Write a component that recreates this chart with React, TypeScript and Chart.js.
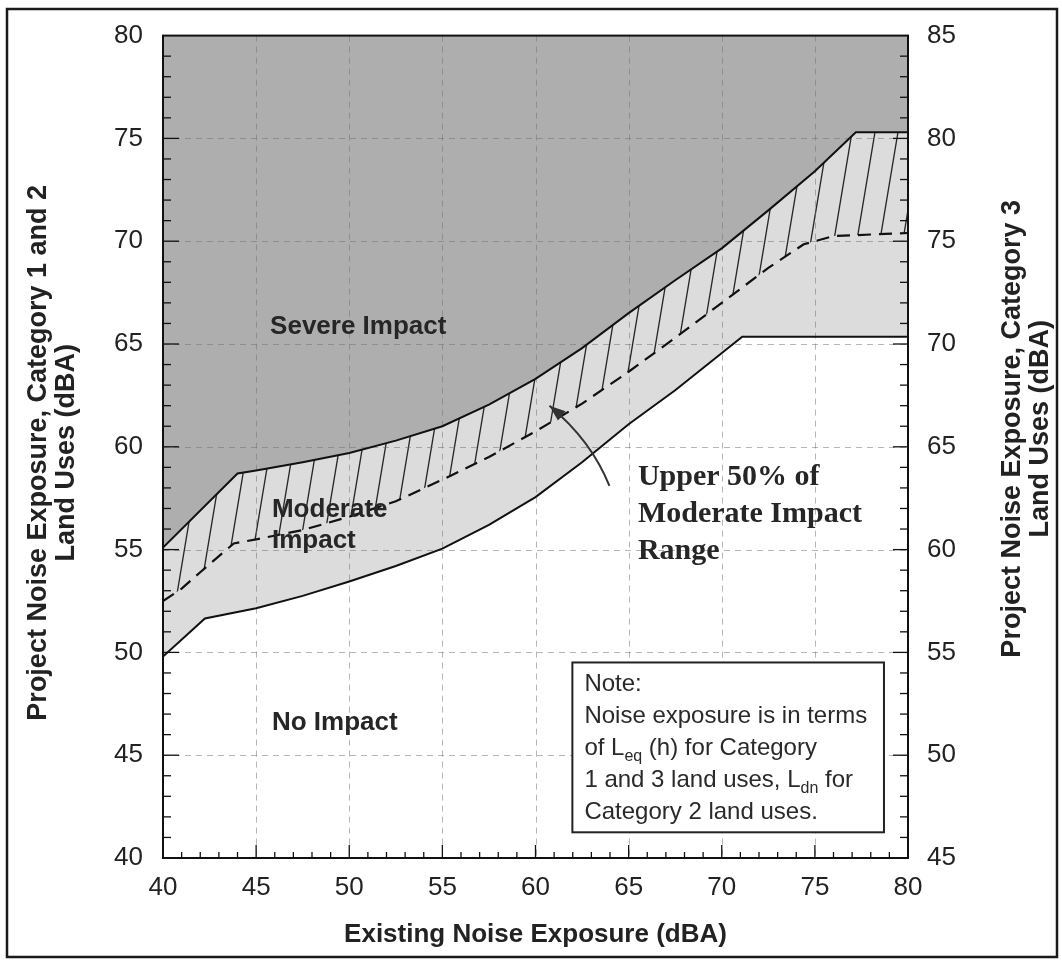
import React, { useEffect, useRef } from 'react';
import { Chart, registerables } from 'chart.js';

Chart.register(...registerables);

// ---------- data ----------
const xTicks = [40, 45, 50, 55, 60, 65, 70, 75, 80];
const yTicks = [40, 45, 50, 55, 60, 65, 70, 75, 80];
const y2Ticks = [45, 50, 55, 60, 65, 70, 75, 80, 85];

// Severe impact threshold (upper solid curve)
const severeX = [40, 44, 45, 47.5, 50, 52.5, 55, 57.5, 60, 62.5, 65, 67.5, 70, 72.5, 75, 77.2, 80];
const severeY = [55.1, 58.7, 58.85, 59.25, 59.7, 60.3, 61.0, 62.05, 63.3, 64.8, 66.5, 68.1, 69.65, 71.5, 73.4, 75.3, 75.3];

// Moderate impact threshold (lower solid curve)
const moderateX = [40, 42.25, 45, 47.5, 50, 52.5, 55, 57.5, 60, 62.5, 65, 67.5, 71.1, 80];
const moderateY = [49.8, 51.65, 52.15, 52.75, 53.45, 54.2, 55.05, 56.2, 57.55, 59.25, 61.1, 62.75, 65.35, 65.35];

// Upper 50% of moderate impact range (dashed curve)
const midX = [40, 41, 42, 43.8, 45, 47.5, 50, 52.5, 55, 57.5, 60, 62.5, 65, 67.5, 70, 72.5, 74.4, 76, 80];
const midY = [52.5, 53.1, 53.9, 55.3, 55.5, 55.95, 56.6, 57.35, 58.4, 59.5, 60.75, 62.1, 63.65, 65.3, 67.0, 68.7, 69.85, 70.25, 70.4];

const pts = (xs: number[], ys: number[]) => xs.map((x, i) => ({ x, y: ys[i] }));

// ---------- styles / layout ----------
const SANS = '"Liberation Sans", Arial, sans-serif';
const SERIF = '"Liberation Serif", "Times New Roman", serif';
const INK = '#222';

const noteLines: { t: string; sub?: boolean }[][] = [
  [{ t: 'Note:' }],
  [{ t: 'Noise exposure is in terms' }],
  [{ t: 'of L' }, { t: 'eq', sub: true }, { t: ' (h) for Category' }],
  [{ t: '1 and 3 land uses, L' }, { t: 'dn', sub: true }, { t: ' for' }],
  [{ t: 'Category 2 land uses.' }],
];

function makeHatch(): CanvasPattern | string {
  const w = 23, h = 138;
  const c = document.createElement('canvas');
  c.width = w;
  c.height = h;
  const g = c.getContext('2d');
  if (!g) return 'rgba(0,0,0,0)';
  g.strokeStyle = '#262626';
  g.lineWidth = 1.3;
  for (const o of [-w, 0, w]) {
    g.beginPath();
    g.moveTo(o, h);
    g.lineTo(o + w, 0);
    g.stroke();
  }
  return g.createPattern(c, 'repeat') || 'rgba(0,0,0,0)';
}

const decorPlugin = {
  id: 'decor',
  beforeDatasetsDraw(chart: any) {
    const { ctx, chartArea: a, scales } = chart;
    const x = scales.x, y = scales.y;
    ctx.save();
    ctx.strokeStyle = 'rgba(110,110,110,0.5)';
    ctx.lineWidth = 1;
    ctx.setLineDash([6, 5]);
    for (const v of xTicks) {
      if (v === 40 || v === 80) continue;
      const p = Math.round(x.getPixelForValue(v)) + 0.5;
      ctx.beginPath(); ctx.moveTo(p, a.top); ctx.lineTo(p, a.bottom); ctx.stroke();
    }
    for (const v of yTicks) {
      if (v === 40 || v === 80) continue;
      const p = Math.round(y.getPixelForValue(v)) + 0.5;
      ctx.beginPath(); ctx.moveTo(a.left, p); ctx.lineTo(a.right, p); ctx.stroke();
    }
    ctx.restore();
  },
  afterDatasetsDraw(chart: any) {
    const { ctx, chartArea: a, scales } = chart;
    const x = scales.x, y = scales.y, y2 = scales.y2;
    ctx.save();
    ctx.strokeStyle = '#111';
    ctx.lineWidth = 1.3;
    const seg = (x1: number, y1: number, x2: number, y2_: number) => {
      ctx.beginPath(); ctx.moveTo(x1, y1); ctx.lineTo(x2, y2_); ctx.stroke();
    };
    for (let v = 41; v < 80; v++) {
      const p = x.getPixelForValue(v);
      seg(p, a.bottom, p, a.bottom - (v % 5 === 0 ? 13 : 6));
    }
    for (let v = 41; v < 80; v++) {
      const p = y.getPixelForValue(v);
      seg(a.left, p, a.left + (v % 5 === 0 ? 16 : 8), p);
    }
    for (let v = 46; v < 85; v++) {
      const p = y2.getPixelForValue(v);
      seg(a.right, p, a.right - (v % 5 === 0 ? 15 : 8), p);
    }
    ctx.lineWidth = 2;
    ctx.strokeRect(a.left, a.top, a.right - a.left, a.bottom - a.top);
    ctx.restore();
  },
  afterDraw(chart: any) {
    const { ctx, chartArea: a, scales } = chart;
    const x = scales.x, y = scales.y;
    const P = (dx: number, dy: number) => [x.getPixelForValue(dx), y.getPixelForValue(dy)];
    ctx.save();

    // outer frame
    ctx.strokeStyle = '#1a1a1a';
    ctx.lineWidth = 2.5;
    ctx.strokeRect(7, 9, 1050, 948);

    // region labels
    ctx.fillStyle = '#262626';
    ctx.textAlign = 'left';
    ctx.textBaseline = 'alphabetic';
    ctx.font = `bold 26px ${SANS}`;
    let p = P(45.75, 65.5); ctx.fillText('Severe Impact', p[0], p[1]);
    p = P(45.85, 56.6); ctx.fillText('Moderate', p[0], p[1]);
    p = P(45.85, 55.1); ctx.fillText('Impact', p[0], p[1]);
    p = P(45.85, 46.25); ctx.fillText('No Impact', p[0], p[1]);

    // callout
    ctx.font = `bold 30px ${SERIF}`;
    p = P(65.5, 58.15);
    ['Upper 50% of', 'Moderate Impact', 'Range'].forEach((t, i) => ctx.fillText(t, p[0], p[1] + i * 37));

    // arrow
    const tail = P(63.97, 58.1), head = P(60.75, 62.0), ctrl = P(63.0, 60.3);
    ctx.strokeStyle = '#333';
    ctx.lineWidth = 2;
    ctx.beginPath();
    ctx.moveTo(tail[0], tail[1]);
    ctx.quadraticCurveTo(ctrl[0], ctrl[1], head[0], head[1]);
    ctx.stroke();
    const ang = Math.atan2(head[1] - ctrl[1], head[0] - ctrl[0]);
    ctx.fillStyle = '#333';
    ctx.beginPath();
    ctx.moveTo(head[0], head[1]);
    ctx.lineTo(head[0] - 16 * Math.cos(ang) + 6 * Math.sin(ang), head[1] - 16 * Math.sin(ang) - 6 * Math.cos(ang));
    ctx.lineTo(head[0] - 16 * Math.cos(ang) - 6 * Math.sin(ang), head[1] - 16 * Math.sin(ang) + 6 * Math.cos(ang));
    ctx.closePath();
    ctx.fill();

    // note box
    const b1 = P(61.98, 49.51), b2 = P(78.71, 41.25);
    ctx.fillStyle = '#fff';
    ctx.fillRect(b1[0], b1[1], b2[0] - b1[0], b2[1] - b1[1]);
    ctx.strokeStyle = '#222';
    ctx.lineWidth = 2;
    ctx.strokeRect(b1[0], b1[1], b2[0] - b1[0], b2[1] - b1[1]);
    ctx.fillStyle = '#2a2a2a';
    noteLines.forEach((runs, i) => {
      let cx = b1[0] + 12;
      const by = b1[1] + 29 + i * 32;
      for (const r of runs) {
        ctx.font = r.sub ? `16px ${SANS}` : `24px ${SANS}`;
        ctx.fillText(r.t, cx, by + (r.sub ? 6 : 0));
        cx += ctx.measureText(r.t).width;
      }
    });

    // axis titles
    ctx.fillStyle = '#222';
    ctx.textAlign = 'center';
    ctx.textBaseline = 'middle';
    const cy = (a.top + a.bottom) / 2;
    const rot = (t: string, tx: number, ty: number) => {
      ctx.save(); ctx.translate(tx, ty); ctx.rotate(-Math.PI / 2); ctx.fillText(t, 0, 0); ctx.restore();
    };
    ctx.font = `bold 27px ${SANS}`;
    rot('Project Noise Exposure, Category 1 and 2', 39, cy + 6);
    rot('Land Uses (dBA)', 67, cy + 6);
    rot('Project Noise Exposure, Category 3', 1013, cy - 18);
    rot('Land Uses (dBA)', 1041, cy - 18);
    ctx.font = `bold 26px ${SANS}`;
    ctx.fillText('Existing Noise Exposure (dBA)', (a.left + a.right) / 2, 935);
    ctx.restore();
  },
};

export default function App() {
  const ref = useRef<HTMLCanvasElement | null>(null);
  useEffect(() => {
    if (!ref.current) return;
    const hatch = makeHatch();
    const tickFont = { family: SANS, size: 26 };
    const chart = new Chart(ref.current, {
      type: 'line',
      data: {
        datasets: [
          {
            label: 'Severe Impact threshold',
            data: pts(severeX, severeY),
            borderColor: '#111', borderWidth: 2, pointRadius: 0, tension: 0,
            fill: 'end', backgroundColor: 'rgba(110,110,110,0.56)', order: 2,
          },
          {
            label: 'Moderate Impact threshold',
            data: pts(moderateX, moderateY),
            borderColor: '#111', borderWidth: 2, pointRadius: 0, tension: 0,
            fill: { target: 0 }, backgroundColor: 'rgba(150,150,150,0.33)', order: 1,
          },
          {
            label: 'Upper 50% of Moderate Impact Range',
            data: pts(midX, midY),
            borderColor: '#111', borderWidth: 2.2, borderDash: [13, 8], pointRadius: 0, tension: 0,
            fill: { target: 0 }, backgroundColor: hatch as any, order: 0,
          },
        ] as any,
      },
      options: {
        animation: false,
        responsive: false,
        layout: { padding: { top: 25, left: 0, right: 0, bottom: 0 } },
        plugins: {
          legend: { display: false },
          tooltip: { enabled: false },
          filler: { drawTime: 'beforeDatasetsDraw', propagate: false },
        } as any,
        scales: {
          x: {
            type: 'linear', min: 40, max: 80, position: 'bottom',
            afterBuildTicks: (s: any) => { s.ticks = xTicks.map((v) => ({ value: v })); },
            afterFit: (s: any) => { s.height = 102; },
            grid: { display: false, drawTicks: false },
            border: { display: true, color: '#111', width: 2 },
            ticks: { font: tickFont, color: INK, padding: 14, maxRotation: 0, autoSkip: false },
          },
          y: {
            type: 'linear', min: 40, max: 80, position: 'left',
            afterBuildTicks: (s: any) => { s.ticks = yTicks.map((v) => ({ value: v })); },
            afterFit: (s: any) => { s.width = 163; },
            grid: { display: false, drawTicks: false },
            border: { display: true, color: '#111', width: 2 },
            ticks: { font: tickFont, color: INK, padding: 20, autoSkip: false },
          },
          y2: {
            type: 'linear', min: 45, max: 85, position: 'right',
            afterBuildTicks: (s: any) => { s.ticks = y2Ticks.map((v) => ({ value: v })); },
            afterFit: (s: any) => { s.width = 154; },
            grid: { display: false, drawTicks: false },
            border: { display: true, color: '#111', width: 2 },
            ticks: { font: tickFont, color: INK, padding: 19, autoSkip: false },
          },
        } as any,
      },
      plugins: [decorPlugin as any],
    });
    return () => chart.destroy();
  }, []);

  return (
    <div style={{ position: 'absolute', left: 0, top: 0, width: 1062, height: 960, background: '#fff' }}>
      <canvas ref={ref} width={1062} height={960} style={{ width: 1062, height: 960, display: 'block' }} />
    </div>
  );
}
